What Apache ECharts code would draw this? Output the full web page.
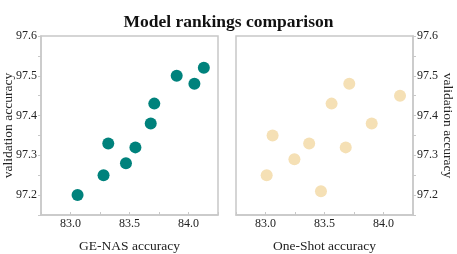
<!DOCTYPE html>
<html><head><meta charset="utf-8">
<script src="https://cdn.jsdelivr.net/npm/echarts@6/dist/echarts.min.js"></script>
<style>html,body{margin:0;padding:0;background:#fff}#c{width:457px;height:254px}</style>
</head><body><div id="c"></div>
<script>
const titleText = 'Model rankings comparison';
const geNasX = [83.06, 83.28, 83.32, 83.47, 83.55, 83.68, 83.71, 83.90, 84.05, 84.13];
const geNasY = [97.20, 97.25, 97.33, 97.28, 97.32, 97.38, 97.43, 97.50, 97.48, 97.52];
const oneShotX = [83.01, 83.06, 83.245, 83.37, 83.47, 83.56, 83.68, 83.71, 83.90, 84.14];
const oneShotY = [97.25, 97.35, 97.29, 97.33, 97.21, 97.43, 97.32, 97.48, 97.38, 97.45];
const xTicks = [83.0, 83.5, 84.0];
const yTicks = [97.2, 97.3, 97.4, 97.5, 97.6];
const xName = ['GE-NAS accuracy', 'One-Shot accuracy'];
const yName = 'validation accuracy';

const font = 'Liberation Serif';
const frame = '#c8c8c8';
const txt = '#222';

function xAxis(i, name) {
  return {
    type: 'value', gridIndex: i, min: 82.75, max: 84.25, interval: 0.25,
    name: name, nameLocation: 'middle', nameGap: 24, nameMoveOverlap: false,
    nameTextStyle: {fontFamily: font, fontSize: 13.5, color: txt},
    axisLine: {show: true, lineStyle: {color: frame, width: 1.5}},
    axisTick: {show: true, inside: true, length: 3, lineStyle: {color: frame}},
    axisLabel: {customValues: xTicks, formatter: v => v.toFixed(1), fontFamily: font, fontSize: 12, color: txt, margin: 3},
    splitLine: {show: false}
  };
}
function yAxis(i, pos) {
  return {
    type: 'value', gridIndex: i, min: 97.15, max: 97.6, interval: 0.05, position: pos,
    name: yName, nameLocation: 'middle', nameGap: pos === 'left' ? 26 : 28, nameRotate: pos === 'left' ? 90 : -90,
    nameMoveOverlap: false,
    nameTextStyle: {fontFamily: font, fontSize: 13.5, color: txt},
    axisLine: {show: true, lineStyle: {color: frame, width: 1.5}},
    axisTick: {show: true, inside: false, length: 3, lineStyle: {color: frame}},
    axisLabel: {customValues: yTicks, formatter: v => v.toFixed(1), fontFamily: font, fontSize: 12, color: txt, margin: 4},
    splitLine: {show: false}
  };
}

const chart = echarts.init(document.getElementById('c'), null, {renderer: 'canvas'});
chart.setOption({
  animation: false,
  backgroundColor: '#fff',
  title: {text: titleText, left: 'center', top: 8, textStyle: {fontFamily: font, fontSize: 17.5, fontWeight: 'bold', color: '#111'}},
  grid: [
    {left: 41, top: 36, width: 177, height: 179, show: true, borderColor: frame, borderWidth: 1.5, containLabel: false, outerBoundsMode: 'none'},
    {left: 236, top: 36, width: 177, height: 179, show: true, borderColor: frame, borderWidth: 1.5, containLabel: false, outerBoundsMode: 'none'}
  ],
  xAxis: [xAxis(0, xName[0]), xAxis(1, xName[1])],
  yAxis: [yAxis(0, 'left'), yAxis(1, 'right')],
  series: [
    {type: 'scatter', xAxisIndex: 0, yAxisIndex: 0, symbolSize: 12,
     itemStyle: {color: '#00827c', opacity: 1},
     data: geNasX.map((x, k) => [x, geNasY[k]])},
    {type: 'scatter', xAxisIndex: 1, yAxisIndex: 1, symbolSize: 12,
     itemStyle: {color: '#f5e0b5', opacity: 1},
     data: oneShotX.map((x, k) => [x, oneShotY[k]])}
  ]
});
</script></body></html>
